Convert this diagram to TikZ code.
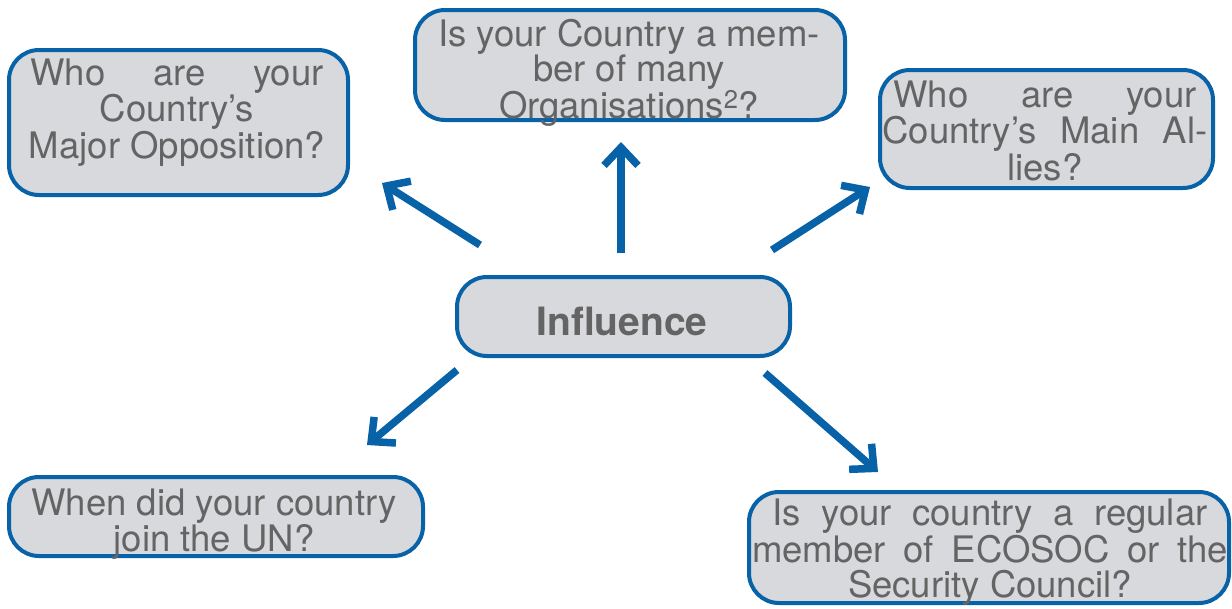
\documentclass[tikz,border=0pt]{standalone}
\usepackage{fontspec}
\setmainfont{TeX Gyre Heros}
\usetikzlibrary{arrows.meta}
\definecolor{bblue}{RGB}{8,98,168}
\definecolor{bfill}{RGB}{216,217,220}
\definecolor{tgray}{RGB}{100,100,100}
\tikzset{
  qbox/.style={draw=bblue, fill=bfill, line width=4pt, rounded corners=30pt, inner sep=0pt},
  qtext/.style={text=tgray, align=center, inner sep=0pt, anchor=base, font=\fontsize{36.5}{35}\selectfont},
  arr/.style={draw=bblue, line width=7.5pt, -{Straight Barb[length=18pt,width=34pt,line join=miter]}}
}
\begin{document}
\begin{tikzpicture}[x=1pt,y=-1pt]
\useasboundingbox (0,0) rectangle (1232,608);
% boxes
\node[qbox, minimum width=339pt, minimum height=145pt] (opp) at (178.5,122.5) {};
\node[qbox, minimum width=430pt, minimum height=110pt] (org) at (630,65) {};
\node[qbox, minimum width=333pt, minimum height=118pt] (ally) at (1046.5,129) {};
\node[qbox, minimum width=333pt, minimum height=79pt] (infl) at (623.5,316.5) {};
\node[qbox, minimum width=414pt, minimum height=79pt] (un) at (216,516.5) {};
\node[qbox, minimum width=480pt, minimum height=111pt] (eco) at (989,547.5) {};
% texts (anchor at baseline of the last line)
\node[qtext] (topp) at (177,158) {\makebox[293pt][s]{Who are your}\\Country’s\\Major Opposition?};
\node[qtext] (torg) at (629,118) {Is your Country a mem-\\ber of many\\Organisations\textsuperscript{2}?};
\node[qtext, font=\fontsize{36.5}{33.5}\selectfont] (tally) at (1045,180) {\makebox[303pt][s]{Who are your}\\\makebox[325pt][s]{Country’s Main Al-}\\lies?};
\node[qtext, font=\fontsize{39}{39}\selectfont\bfseries] (tinfl) at (622,335) {Influence};
\node[qtext] (tun) at (214,551) {When did your country\\join the UN?};
\node[qtext] (teco) at (990,597) {\makebox[435pt][s]{Is your country a regular}\\\makebox[476pt][s]{member of ECOSOC or the}\\Security Council?};
% arrows
\coordinate (s1) at (480,245); \coordinate (e1) at (382,183);
\coordinate (s2) at (621,253); \coordinate (e2) at (621,142);
\coordinate (s3) at (772,250); \coordinate (e3) at (870,187);
\coordinate (s4) at (457,370); \coordinate (e4) at (367,445);
\coordinate (s5) at (765,373); \coordinate (e5) at (878,472);
\draw[arr] (s1) -- (e1);
\draw[arr] (s2) -- (e2);
\draw[arr] (s3) -- (e3);
\draw[arr] (s4) -- (e4);
\draw[arr] (s5) -- (e5);
\end{tikzpicture}
\end{document}
